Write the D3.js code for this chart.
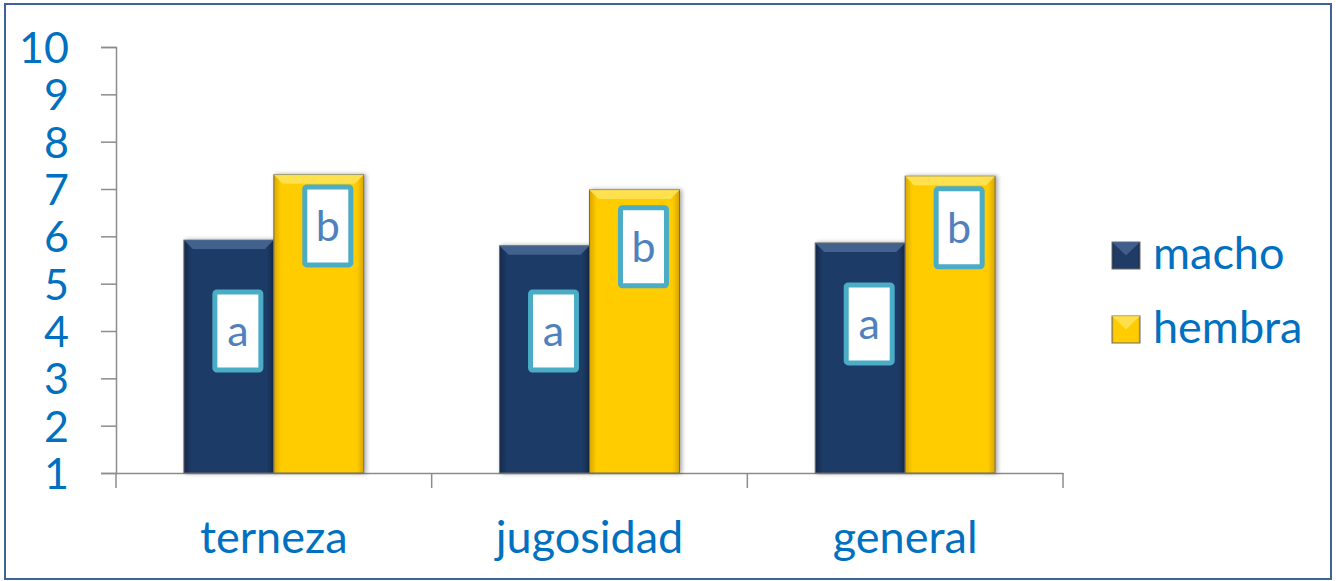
<!DOCTYPE html>
<html>
<head>
<meta charset="utf-8">
<script src="https://cdn.jsdelivr.net/npm/d3@7"></script>
<style>
  body { margin: 0; background: #fff; }
  svg { display: block; }
</style>
</head>
<body>
<div id="chart"></div>
<script>
// Chart data
const categories = ['terneza', 'jugosidad', 'general'];
const seriesNames = ['macho', 'hembra'];
const machoValues = [5.92, 5.80, 5.86];
const hembraValues = [7.30, 6.98, 7.27];
const machoLetters = ['a', 'a', 'a'];
const hembraLetters = ['b', 'b', 'b'];
// where each letter box sits (value units)
const machoLetterAt = [4.0, 4.0, 4.15];
const hembraLetterAt = [6.22, 5.78, 6.18];
const yTicks = [1, 2, 3, 4, 5, 6, 7, 8, 9, 10];

const width = 1336;
const height = 581;
const font = 'Lato, "Open Sans", sans-serif';
const textBlue = '#0070c0';
const colors = { macho: '#1f3b66', hembra: '#ffcc00' };
const darker = { macho: '#14284a', hembra: '#d9a800' };
const lighter = { macho: '#4a6894', hembra: '#ffe45c' };

const svg = d3
  .select('#chart')
  .append('svg')
  .attr('width', width)
  .attr('height', height);

// Outer frame
svg.append('rect')
  .attr('x', 5)
  .attr('y', 4)
  .attr('width', 1326)
  .attr('height', 575)
  .attr('fill', '#fff')
  .attr('stroke', '#3e6497')
  .attr('stroke-width', 2);

// Scales
const x0 = d3.scaleBand()
  .domain(categories)
  .range([116, 1063]);

const x1 = d3.scaleBand()
  .domain(seriesNames)
  .range([0, x0.bandwidth()])
  .paddingOuter(0.755)
  .paddingInner(0);

const y = d3.scaleLinear()
  .domain([1, 10])
  .range([473, 47]);

// Y axis
const yAxis = svg.append('g')
  .attr('transform', 'translate(116,0)')
  .call(d3.axisLeft(y).tickValues(yTicks).tickSize(15).tickPadding(32));
yAxis.select('.domain').attr('stroke', '#8c8c8c').attr('stroke-width', 1.5);
yAxis.selectAll('.tick line').attr('stroke', '#8c8c8c').attr('stroke-width', 1.5);
yAxis.selectAll('.tick text')
  .attr('fill', textBlue)
  .style('font-family', font)
  .style('font-size', '43px')
  .attr('dy', '0.36em');

// X axis
const xAxis = svg.append('g')
  .attr('transform', 'translate(0,473)')
  .call(d3.axisBottom(x0).tickSize(0).tickPadding(48).tickSizeOuter(0));
xAxis.select('.domain').attr('stroke', '#8c8c8c').attr('stroke-width', 1.5);
xAxis.selectAll('.tick text')
  .attr('fill', textBlue)
  .style('font-family', font)
  .style('font-size', '45px');

// category separators
const sepX = categories.map((c) => x0(c)).concat([x0.range()[1]]);
svg.append('g')
  .selectAll('line')
  .data(sepX)
  .enter()
  .append('line')
  .attr('x1', (d) => d)
  .attr('x2', (d) => d)
  .attr('y1', 473)
  .attr('y2', 488)
  .attr('stroke', '#8c8c8c')
  .attr('stroke-width', 1.5);

// Gradients for the bevel look
const defs = svg.append('defs');
seriesNames.forEach((s) => {
  const g = defs.append('linearGradient')
    .attr('id', 'grad-' + s)
    .attr('x1', '0%').attr('x2', '100%').attr('y1', '0%').attr('y2', '0%');
  g.append('stop').attr('offset', '0%').attr('stop-color', darker[s]);
  g.append('stop').attr('offset', '8%').attr('stop-color', colors[s]);
  g.append('stop').attr('offset', '92%').attr('stop-color', colors[s]);
  g.append('stop').attr('offset', '100%').attr('stop-color', darker[s]);
});
const shadow = defs.append('filter')
  .attr('id', 'shadow')
  .attr('x', '-20%').attr('y', '-20%').attr('width', '140%').attr('height', '140%');
shadow.append('feDropShadow')
  .attr('dx', 2).attr('dy', 0).attr('stdDeviation', 2)
  .attr('flood-color', '#000').attr('flood-opacity', 0.35);

// Bars
const rows = categories.map((c, i) => ({
  category: c,
  bars: [
    { series: 'macho', value: machoValues[i], letter: machoLetters[i], at: machoLetterAt[i] },
    { series: 'hembra', value: hembraValues[i], letter: hembraLetters[i], at: hembraLetterAt[i] }
  ]
}));

const groups = svg.append('g')
  .selectAll('g')
  .data(rows)
  .enter()
  .append('g')
  .attr('transform', (d) => `translate(${x0(d.category)},0)`);

const bar = groups.selectAll('g.bar')
  .data((d) => d.bars)
  .enter()
  .append('g')
  .attr('class', 'bar');

bar.append('rect')
  .attr('x', (d) => x1(d.series))
  .attr('y', (d) => y(d.value))
  .attr('width', x1.bandwidth())
  .attr('height', (d) => y(1) - y(d.value))
  .attr('fill', (d) => `url(#grad-${d.series})`)
  .attr('stroke', '#6b6b6b')
  .attr('stroke-width', 1)
  .attr('filter', 'url(#shadow)');

// top bevel
const bevel = 9;
bar.append('path')
  .attr('d', (d) => {
    const x = x1(d.series);
    const w = x1.bandwidth();
    const t = y(d.value);
    return `M${x},${t}L${x + w},${t}L${x + w - bevel},${t + bevel}L${x + bevel},${t + bevel}Z`;
  })
  .attr('fill', (d) => lighter[d.series])
  .attr('opacity', 0.85);

// Letter boxes
const boxW = 46;
const boxH = 78;
bar.append('rect')
  .attr('x', (d) => x1(d.series) + x1.bandwidth() / 2 + 9 - boxW / 2)
  .attr('y', (d) => y(d.at) - boxH / 2)
  .attr('width', boxW)
  .attr('height', boxH)
  .attr('rx', 2)
  .attr('fill', '#fff')
  .attr('stroke', '#4bacc6')
  .attr('stroke-width', 5);

bar.append('text')
  .attr('x', (d) => x1(d.series) + x1.bandwidth() / 2 + 9)
  .attr('y', (d) => y(d.at))
  .attr('dy', '0.35em')
  .attr('text-anchor', 'middle')
  .attr('fill', '#4f81bd')
  .style('font-family', font)
  .style('font-size', '43px')
  .text((d) => d.letter);

// Legend
const legend = svg.append('g')
  .selectAll('g')
  .data(seriesNames)
  .enter()
  .append('g')
  .attr('transform', (d, i) => `translate(1112,${242 + i * 74})`);

legend.append('rect')
  .attr('width', 28)
  .attr('height', 27)
  .attr('fill', (d) => `url(#grad-${d})`)
  .attr('stroke', '#6b6b6b')
  .attr('stroke-width', 1);

legend.append('path')
  .attr('d', 'M0,0L28,0L14,13.5Z')
  .attr('fill', (d) => lighter[d])
  .attr('opacity', 0.8);

legend.append('text')
  .attr('x', 41)
  .attr('y', 27)
  .attr('fill', textBlue)
  .style('font-family', font)
  .style('font-size', '45px')
  .text((d) => d);
</script>
</body>
</html>
